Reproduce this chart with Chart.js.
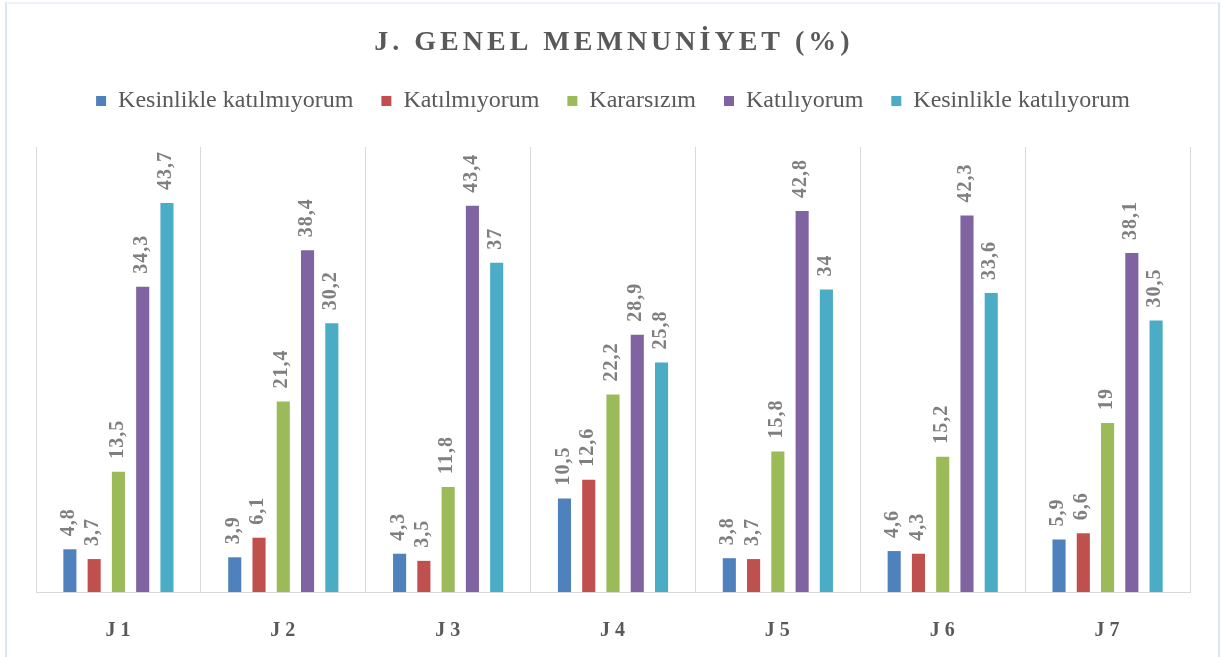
<!DOCTYPE html>
<html>
<head>
<meta charset="utf-8">
<script src="https://cdn.jsdelivr.net/npm/chart.js@4.4.1/dist/chart.umd.min.js"></script>
<style>
  html, body { margin: 0; padding: 0; background: #fff; }
  #wrap { position: relative; width: 1224px; height: 657px; }
  #frame { position: absolute; left: 5px; top: 2px; width: 1211px; height: 670px;
           border: 2px solid #eef3fa; border-left-color: #dce6f3; border-right-color: #dce6f3; }
  canvas { position: absolute; left: 0; top: 0; }
</style>
</head>
<body>
<div id="wrap">
  <div id="frame"></div>
  <canvas id="chart"></canvas>
</div>
<script>
  const categories = ['J1', 'J2', 'J3', 'J4', 'J5', 'J6', 'J7'];
  const seriesNames = ['Kesinlikle katılmıyorum', 'Katılmıyorum', 'Kararsızım', 'Katılıyorum', 'Kesinlikle katılıyorum'];
  const kesinlikleKatilmiyorum = [4.8, 3.9, 4.3, 10.5, 3.8, 4.6, 5.9];
  const katilmiyorum = [3.7, 6.1, 3.5, 12.6, 3.7, 4.3, 6.6];
  const kararsizim = [13.5, 21.4, 11.8, 22.2, 15.8, 15.2, 19];
  const katiliyorum = [34.3, 38.4, 43.4, 28.9, 42.8, 42.3, 38.1];
  const kesinlikleKatiliyorum = [43.7, 30.2, 37, 25.8, 34, 33.6, 30.5];
  const colors = ['#4f81bd', '#c0504d', '#9bbb59', '#8064a2', '#4bacc6'];
  const titleText = 'J. GENEL MEMNUNİYET (%)';

  const serif = '"Liberation Serif", "Times New Roman", serif';

  // title, x labels and value labels are drawn here (they need letter spacing)
  const textPlugin = {
    id: 'texts',
    afterDraw(chart) {
      const ctx = chart.ctx;
      ctx.save();
      ctx.fillStyle = '#595959';
      ctx.font = 'bold 28px ' + serif;
      ctx.letterSpacing = '4px';
      ctx.textAlign = 'center';
      ctx.textBaseline = 'middle';
      ctx.fillText(titleText, chart.width / 2 + 2, 43);

      ctx.font = 'bold 20px ' + serif;
      ctx.letterSpacing = '5px';
      const xs = chart.scales.x;
      categories.forEach((c, i) => {
        ctx.fillText(c, xs.getPixelForValue(i) + 2, 631);
      });

      ctx.fillStyle = '#7f7f7f';
      ctx.font = 'bold 20px ' + serif;
      ctx.letterSpacing = '1px';
      ctx.textAlign = 'left';
      chart.data.datasets.forEach((ds, di) => {
        chart.getDatasetMeta(di).data.forEach((bar, i) => {
          ctx.save();
          ctx.translate(bar.x - 1, bar.y - 13);
          ctx.rotate(-Math.PI / 2);
          ctx.fillText(String(ds.data[i]).replace('.', ','), 0, 0);
          ctx.restore();
        });
      });
      ctx.restore();
    }
  };

  const seriesData = [kesinlikleKatilmiyorum, katilmiyorum, kararsizim, katiliyorum, kesinlikleKatiliyorum];

  new Chart(document.getElementById('chart'), {
    type: 'bar',
    data: {
      labels: categories,
      datasets: seriesNames.map((name, i) => ({
        label: name,
        data: seriesData[i],
        backgroundColor: colors[i],
        categoryPercentage: 0.736,
        barPercentage: 0.54
      }))
    },
    options: {
      responsive: true,
      maintainAspectRatio: false,
      animation: false,
      layout: { padding: { left: 36, right: 34, top: 61, bottom: 65 } },
      scales: {
        x: {
          grid: { color: '#d9d9d9', offset: true, drawTicks: false },
          border: { color: '#d9d9d9' },
          ticks: { display: false }
        },
        // empty top axis, only keeps a gap between legend and plot
        gap: {
          type: 'linear',
          position: 'top',
          grid: { display: false },
          border: { display: false },
          ticks: { display: false },
          afterFit: (scale) => { scale.height = 24; }
        },
        y: { display: false, min: 0, max: 50 }
      },
      plugins: {
        legend: {
          position: 'top',
          labels: {
            boxWidth: 10,
            boxHeight: 10,
            padding: 28,
            color: '#595959',
            font: { family: serif, size: 24 }
          }
        },
        tooltip: { enabled: false }
      }
    },
    plugins: [textPlugin]
  });
</script>
</body>
</html>
